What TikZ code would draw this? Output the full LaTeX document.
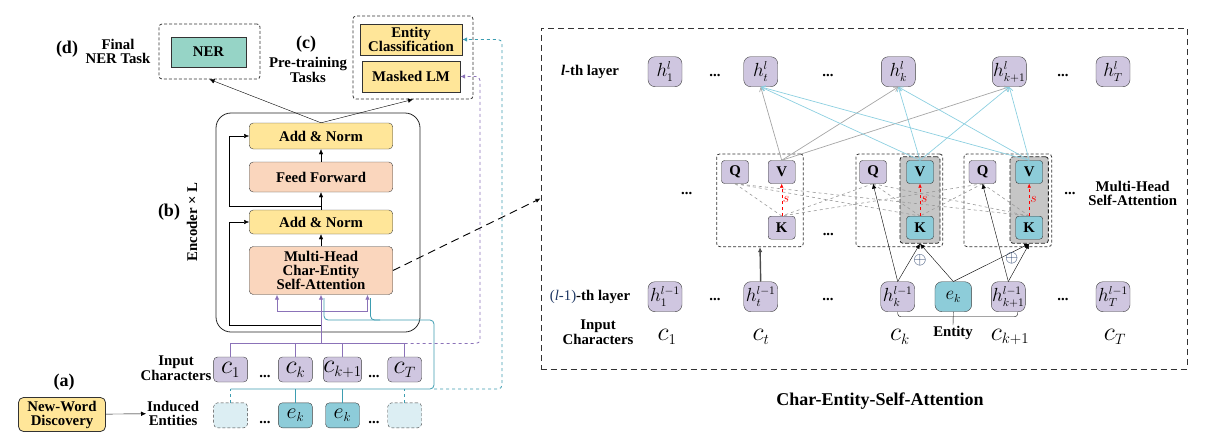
\RequirePackage{fix-cm}
\documentclass[tikz,border=0pt]{standalone}
\usepackage{fontspec}
\setmainfont{Liberation Serif}
\usepackage{tikz}
\usetikzlibrary{arrows.meta}
\DeclareMathSizes{26}{26}{15}{12}
\DeclareMathSizes{22}{22}{13}{10}
\DeclareMathSizes{19}{19}{11.5}{9}

\definecolor{lav}{HTML}{CFC6E0}
\definecolor{lyellow}{HTML}{FFE699}
\definecolor{peach}{HTML}{FAD6BD}
\definecolor{nergreen}{HTML}{96D4C6}
\definecolor{entblue}{HTML}{8DCCD9}
\definecolor{paleblue}{HTML}{DCEEF3}
\definecolor{purpline}{HTML}{8B72B8}
\definecolor{tealline}{HTML}{3D9DB1}
\definecolor{skyline}{HTML}{8CCFE0}
\definecolor{navy}{HTML}{1F3864}

\tikzset{
  lbl/.style={font=\bfseries\fontsize{14.8}{14.5}\selectfont, align=center, inner sep=1pt},
  plabel/.style={font=\bfseries\fontsize{18}{18}\selectfont, inner sep=1pt},
  encblock/.style={draw=black!75, rounded corners=4pt, minimum width=143.5pt, inner sep=0pt,
    font=\bfseries\fontsize{14.8}{14}\selectfont, align=center},
  task/.style={draw=black!80, inner sep=0pt, font=\bfseries\fontsize{14.8}{14}\selectfont, align=center},
  grp/.style={draw=black!80, dash pattern=on 3pt off 2pt, line width=0.8pt, rounded corners=3pt, inner sep=0pt},
  cbox/.style={draw=black!75, fill=lav, rounded corners=4pt, minimum width=34pt, minimum height=25pt,
    inner sep=0pt, font=\fontsize{26}{26}\selectfont},
  ebox/.style={cbox, fill=entblue, font=\fontsize{22}{22}\selectfont},
  emptybox/.style={cbox, fill=paleblue, dash pattern=on 3pt off 2pt},
  hbox/.style={draw=black!75, fill=lav, rounded corners=7pt, minimum width=34pt, minimum height=30pt,
    inner sep=0pt, font=\fontsize{19}{19}\selectfont},
  qkv/.style={draw=black!80, fill=lav, rounded corners=3pt, minimum width=27pt, minimum height=23pt,
    inner sep=0pt, font=\bfseries\fontsize{14.8}{14}\selectfont},
  vkpanel/.style={draw=black!85, dash pattern=on 4pt off 2pt, line width=0.8pt, fill=gray!45,
    rounded corners=3pt, minimum width=40pt, minimum height=86.6pt, inner sep=0pt},
  arr/.style={-{Latex[length=5pt,width=4.5pt]}},
  openarr/.style={-{Straight Barb[length=4pt,width=5pt]}},
  purp/.style={draw=purpline, line width=0.8pt},
  teall/.style={draw=tealline, line width=0.8pt},
}

\begin{document}
\begin{tikzpicture}[x=1pt,y=-1pt]
\useasboundingbox (0,0) rectangle (1218,439);

% encoder
\draw[black!85,line width=0.8pt,rounded corners=15pt] (216,113) rectangle (420,332);
\node[encblock,fill=lyellow,minimum height=26pt] (an2) at (321,136) {Add \& Norm};
\node[encblock,fill=peach,minimum height=30pt] (ff) at (321,177) {Feed Forward};
\node[encblock,fill=lyellow,minimum height=24pt] (an1) at (321,222) {Add \& Norm};
\node[encblock,fill=peach,minimum height=48pt] (mh) at (321,270.5) {Multi-Head\\Char-Entity\\Self-Attention};
\draw[arr] (mh) -- (an1);
\draw[arr] (an1) -- (ff);
\draw[arr] (ff) -- (an2);
\coordinate (br1) at (321,206);
\coordinate (br2) at (321,325);
\draw[arr] (br1) -- (229,206) |- (an2.west);
\draw[arr] (br2) -- (229,325) |- (an1.west);

% tasks
\node[grp,minimum width=101pt,minimum height=55pt] (nerbox) at (209.5,51.5) {};
\node[task,fill=nergreen,minimum width=75pt,minimum height=30pt] (ner) at (208.5,52) {NER};
\node[grp,minimum width=120pt,minimum height=83pt] (ptbox) at (413,57.5) {};
\node[task,fill=lyellow,minimum width=102pt,minimum height=31pt] (ec) at (411,39.5) {Entity\\Classification};
\node[task,fill=lyellow,minimum width=98pt,minimum height=31pt] (mlm) at (411,76.5) {Masked LM};
\draw[arr] (an2.north) -- (nerbox.south);
\draw[arr] (an2.north) -- (ptbox.south);

\node[plabel] at (67,49) {(d)};
\node[lbl] at (118,51.5) {Final\\NER Task};
\node[plabel] at (306,44) {(c)};
\node[lbl] at (308,70) {Pre-training\\Tasks};
\node[plabel] at (169,212) {(b)};
\node[lbl,rotate=90] at (192,222) {Encoder × L};
\node[plabel] at (64,382) {(a)};
\node[task,fill=lyellow,rounded corners=5pt,minimum width=87pt,minimum height=34pt,line width=0.8pt] (nwd) at (62,414.5) {New-Word\\Discovery};
\node[lbl] at (176,368) {Input\\Characters};
\node[lbl,anchor=west] (ind) at (146,413.5) {Induced\\Entities};
\draw[arr] (nwd) -- (ind);

% inputs
\foreach \n/\x/\t in {c1/230.6/c_1, ck/295.4/c_k, ckk/342.5/c_{k+1}, cT/404.7/c_T}
  \node[cbox] (\n) at (\x,369.5) {$\t$};
\node[emptybox] (e1) at (230.6,415.3) {};
\node[ebox] (ek) at (295.4,415.3) {$e_k$};
\node[ebox] (ekk) at (342.5,415.3) {$e_k$};
\node[emptybox] (eT) at (404.7,415.3) {};
\foreach \x in {265,374} {
  \node[lbl] at (\x,377) {...};
  \node[lbl] at (\x,423) {...};
}

\coordinate (busmid) at (321,343.5);
\coordinate (pl) at (277,311);
\coordinate (pr) at (367.5,311);
\draw[purp] (c1.north) -- ++(0,-13.5) -| (cT.north);
\foreach \n in {ck,ckk} \draw[purp] (\n.north) -- ++(0,-13.5);
\draw[purp,arr] (busmid) -- (mh.south);
\draw[purp] (pl) -- (pr);
\draw[purp,arr] (pl) -- (pl |- mh.south);
\draw[purp,arr] (pr) -- (pr |- mh.south);

\draw[teall,rounded corners=4pt] (324,298) |- (434,320) |- (230.6,389);
\draw[teall,rounded corners=4pt] (370.5,298) |- (380,320);
\foreach \n in {ek,ekk} \draw[teall] (\n.north) -- ++(0,-13.3);
\foreach \n in {e1,eT} \draw[teall,dashed] (\n.north) -- ++(0,-13.3);

\draw[purp,dashed,arr,rounded corners=4pt] (404.7,343.5) -- (480,343.5) |- (mlm.east);
\draw[teall,dashed,arr,rounded corners=4pt] (434,389) -- (502,389) |- (ec.east);

% char-entity self-attention
\node[draw=black!80,dash pattern=on 6pt off 4pt,minimum width=646pt,minimum height=341pt,inner sep=0pt] (attn) at (863.7,198.5) {};
\draw[dash pattern=on 8pt off 5pt,line width=0.9pt,arr] (mh.east) -- (attn.west);
\node[font=\bfseries\fontsize{18}{18}\selectfont] at (880,401) {Char-Entity-Self-Attention};

\node[lbl] at (590,72) {\textit{l}-th layer};
\node[lbl] at (590,297) {{\mdseries\color{navy}(\textit{l}-1)}-th layer};
\node[lbl] at (598,332) {Input\\Characters};
\node[lbl] at (1132.7,193.3) {Multi-Head\\Self-Attention};

\foreach \n/\x/\s in {1/665/1, t/760.7/t, k/898.3/k, kk/1009.3/{k+1}, T/1113/T}
  \node[hbox] (ht\n) at (\x,71.7) {$h^{l}_{\s}$};
\foreach \n/\x/\s in {1/665/1, t/760.7/t, k/897.7/k, kk/1008.3/{k+1}, T/1113/T}
  \node[hbox] (hb\n) at (\x,296.7) {$h^{l-1}_{\s}$};
\node[hbox,fill=entblue,minimum width=36.7pt] (ent) at (953.3,296.7) {$e_k$};
\foreach \x in {715,828,1063} {
  \node[lbl] at (\x,76) {...};
  \node[lbl] at (\x,300) {...};
}
\node[lbl] at (686.7,194) {...};
\node[lbl] at (828.3,235) {...};
\node[lbl] at (1070,194) {...};

\foreach \x/\t in {667/c_1, 761/c_t, 900/c_k, 1010/c_{k+1}, 1115/c_T}
  \node[font=\fontsize{26}{26}\selectfont] at (\x,337) {$\t$};
\node[lbl] (entl) at (953,333) {Entity};
\draw (ent.south) -- (entl.north);
\coordinate (brk) at (1017.7,316.7);
\draw[rounded corners=3pt] (hbk.south) |- (brk) -- (brk |- hbkk.south);

\node[grp,minimum width=86.6pt,minimum height=92.7pt] (gt) at (760,200.3) {};
\node[grp,minimum width=86.7pt,minimum height=92.7pt] (gk) at (899.3,200.3) {};
\node[grp,minimum width=87.7pt,minimum height=92.7pt] (gkk) at (1007.8,200.3) {};
\node[vkpanel] (shk) at (920,200) {};
\node[vkpanel,minimum width=38.3pt] (shkk) at (1029.2,200) {};

\node[qkv] (qt) at (735,172) {Q};
\node[qkv] (vt) at (781.7,172) {V};
\node[qkv] (kt) at (781.7,227.7) {K};
\node[qkv] (qk) at (873,172) {Q};
\node[qkv,fill=entblue] (vk) at (920,172) {V};
\node[qkv,fill=entblue] (kk) at (920,227.7) {K};
\node[qkv] (qkk) at (982.5,172) {Q};
\node[qkv,fill=entblue] (vkk) at (1029.2,172) {V};
\node[qkv,fill=entblue] (kkk) at (1029.2,227.7) {K};

\foreach \a in {t,k,kk} \foreach \b in {t,k,kk}
  \draw[gray!80,dashed,line width=0.6pt] (q\a.south) -- (k\b.north);

\foreach \g in {t,k,kk}
  \draw[red,dashed,-{Latex[length=4pt,width=3.5pt]}] (k\g.north) -- (v\g.south)
    node[midway,right,inner sep=1pt,font=\fontsize{14}{14}\selectfont] {$s$};

\foreach \d in {t,k,kk} \draw[gray!70,line width=0.7pt,openarr] (vt.north) -- (ht\d.south);
\foreach \v in {k,kk} \foreach \d in {t,k,kk}
  \draw[skyline,line width=0.7pt,openarr] (v\v.north) -- (ht\d.south);

\draw[arr,line width=1.4pt,black!70] (hbt.north) -- (gt.south);
\draw[arr] (hbk.north) -- (qk.south);
\draw[arr] (hbk.north) -- (shk.south);
\draw[arr] (ent.north) -- (shk.south);
\draw[arr] (ent.north) -- (shkk.south);
\draw[arr] (hbkk.north) -- (qkk.south);
\draw[arr] (hbkk.north) -- (shkk.south);
\node[font=\fontsize{17}{17}\selectfont,text=navy] at (920,260) {$\oplus$};
\node[font=\fontsize{17}{17}\selectfont,text=navy] at (1011.7,258.3) {$\oplus$};
\end{tikzpicture}
\end{document}
